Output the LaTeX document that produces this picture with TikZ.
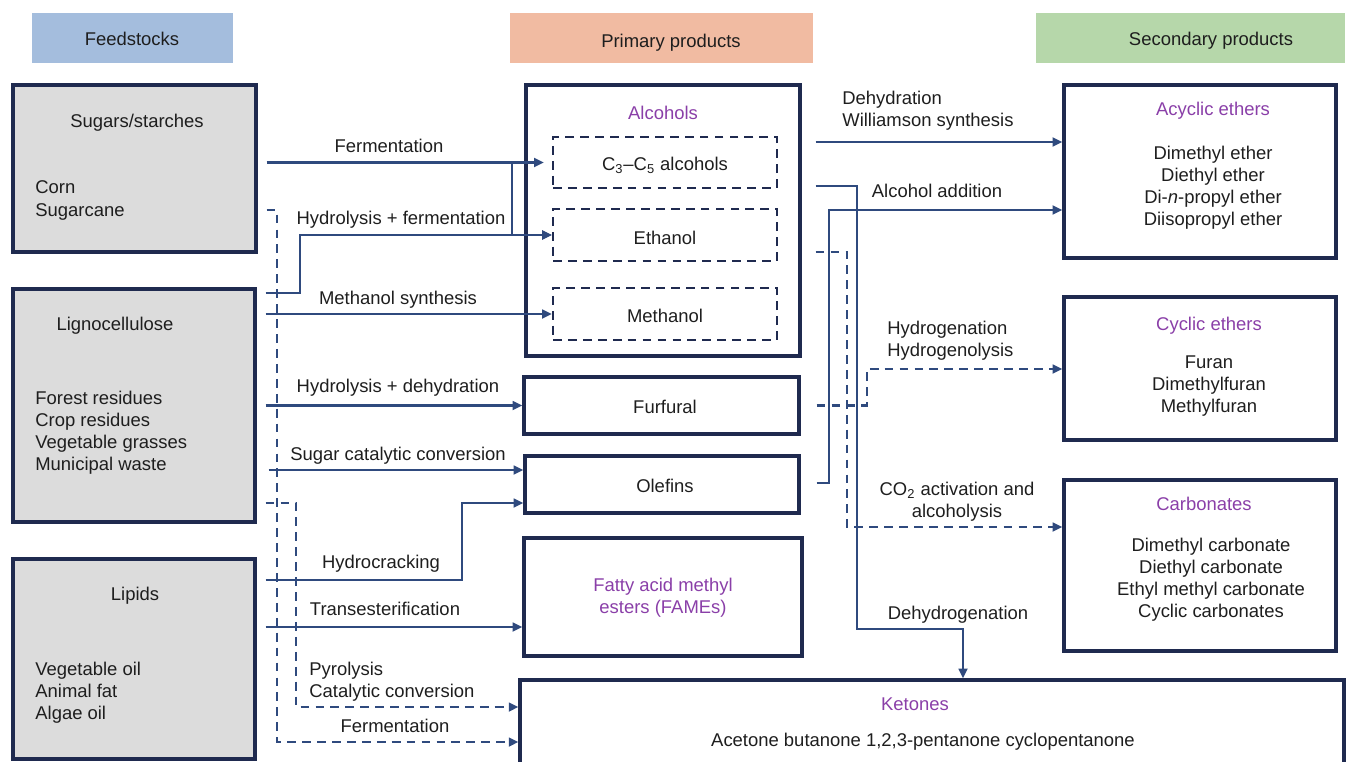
\documentclass[tikz,border=0pt]{standalone}
\usepackage{fontspec}
\setmainfont{Liberation Sans}
\usetikzlibrary{arrows.meta}

\begin{document}
\begin{tikzpicture}[x=0.02cm,y=-0.02cm,
  font=\fontsize{10.5}{12.6}\selectfont,
  box/.style={draw=frame,line width=1.9pt,inner sep=0pt},
  feed/.style={box,fill=feedgray},
  sub/.style={draw=frame,line width=1.4pt,dash pattern=on 5pt off 3.5pt,inner sep=0pt},
  head/.style={inner sep=0pt,minimum height=1cm},
  arr/.style={draw=conn,line width=1.3pt,-{Triangle[length=5.5pt,width=5pt]}},
  darr/.style={arr,dash pattern=on 5pt off 3.5pt},
  base/.style={text=ink,inner sep=0pt},
  lbl/.style={base,text height=0.75em,text depth=0.1em,yshift=-0.03cm},
  title/.style={lbl,text=plum},
  lst/.style={base,align=left,yshift=-0.05cm},
  blk/.style={base,align=center,yshift=-0.05cm},
  ]

  \definecolor{frame}{RGB}{31,42,79} % box border
  \definecolor{conn}{RGB}{47,74,126} % connectors
  \definecolor{ink}{RGB}{30,30,30}
  \definecolor{plum}{RGB}{138,63,168} % purple titles
  \definecolor{feedgray}{RGB}{220,220,220}
  \definecolor{hblue}{RGB}{164,189,221}
  \definecolor{hsalmon}{RGB}{241,187,162}
  \definecolor{hgreen}{RGB}{182,215,170}

  \useasboundingbox (0,0) rectangle (1362,761);

  % Column headers
  \node[head,fill=hblue,minimum width=4.02cm] (hfeed) at (132.5,38) {};
  \node[head,fill=hsalmon,minimum width=6.06cm] (hprim) at (661.5,38) {};
  \node[head,fill=hgreen,minimum width=6.18cm] (hsec) at (1190.5,38) {};
  \node[lbl] (hfeedT) at (132,38) {Feedstocks};
  \node[lbl] (hprimT) at (671,40) {Primary products};
  \node[lbl] (hsecT) at (1211,38) {Secondary products};

  % Feedstocks
  \node[feed,minimum width=4.86cm,minimum height=3.34cm] (sugars) at (134.5,168.5) {};
  \node[feed,minimum width=4.84cm,minimum height=4.66cm] (ligno) at (134,405.5) {};
  \node[feed,minimum width=4.84cm,minimum height=4cm] (lipids) at (134,659) {};
  \node[lbl] (sugarsT) at (137,120) {Sugars/starches};
  \node[lst,anchor=west] (sugarsL) at (35,198) {Corn\\Sugarcane};
  \node[lbl] (lignoT) at (115,323) {Lignocellulose};
  \node[lst,anchor=west] (lignoL) at (35,430.5) {Forest residues\\Crop residues\\Vegetable grasses\\Municipal waste};
  \node[lbl] (lipidsT) at (135,593) {Lipids};
  \node[lst,anchor=west] (lipidsL) at (35,690) {Vegetable oil\\Animal fat\\Algae oil};

  % Primary products
  \node[box,minimum width=5.48cm,minimum height=5.42cm] (alcohols) at (663,220.5) {};
  \node[title] (alcoholsT) at (663,112) {Alcohols};
  \node[sub,minimum width=4.48cm,minimum height=1.02cm] (c35) at (665,162.5) {};
  \node[sub,minimum width=4.48cm,minimum height=1.04cm] (ethanol) at (665,235) {};
  \node[sub,minimum width=4.48cm,minimum height=1.04cm] (methanol) at (665,314) {};
  \node[lbl] (c35T) at (665,163) {C\textsubscript{3}–C\textsubscript{5} alcohols};
  \node[lbl] (ethanolT) at (665,237) {Ethanol};
  \node[lbl] (methanolT) at (665,315) {Methanol};
  \node[box,minimum width=5.5cm,minimum height=1.14cm] (furfural) at (661.5,405.5) {};
  \node[lbl] (furfuralT) at (665,406) {Furfural};
  \node[box,minimum width=5.48cm,minimum height=1.14cm] (olefins) at (662,484.5) {};
  \node[lbl] (olefinsT) at (665,485) {Olefins};
  \node[box,minimum width=5.56cm,minimum height=2.36cm] (fames) at (663,597) {};
  \node[blk,text=plum] (famesT) at (663,595) {Fatty acid methyl\\esters (FAMEs)};
  \node[box,minimum width=16.48cm,minimum height=1.9cm] (ketones) at (932,727.5) {};
  \node[title] (ketonesT) at (915,703) {Ketones};
  \node[lbl] (ketonesL) at (923,739) {Acetone butanone 1,2,3-pentanone cyclopentanone};

  % Secondary products
  \node[box,minimum width=5.44cm,minimum height=3.46cm] (acyclic) at (1200,171.5) {};
  \node[title] (acyclicT) at (1213,108) {Acyclic ethers};
  \node[blk] (acyclicL) at (1213,185.5) {Dimethyl ether\\Diethyl ether\\Di-\textit{n}-propyl ether\\Diisopropyl ether};
  \node[box,minimum width=5.44cm,minimum height=2.86cm] (cyclic) at (1200,368.5) {};
  \node[title] (cyclicT) at (1209,323) {Cyclic ethers};
  \node[blk] (cyclicL) at (1209,383.5) {Furan\\Dimethylfuran\\Methylfuran};
  \node[box,minimum width=5.44cm,minimum height=3.42cm] (carbonates) at (1200,565.5) {};
  \node[title] (carbonatesT) at (1204,503) {Carbonates};
  \node[blk] (carbonatesL) at (1211,577.5) {Dimethyl carbonate\\Diethyl carbonate\\Ethyl methyl carbonate\\Cyclic carbonates};

  % Feedstocks to primary products
  \draw[arr,shorten >=0.16cm] (sugars.east |- c35.west) ++(9,0) -- (c35.west);
  \draw[arr] (512,162) |- (ethanol.west);
  \draw[arr] (ligno.east |- 0,293) ++(9,0) -- (300,293) |- (ethanol.west);
  \draw[arr] (ligno.east |- methanol.west) ++(9,0) -- (methanol.west);
  \draw[arr] (ligno.east |- furfural.west) ++(9,0) -- (furfural.west);
  \draw[arr] (ligno.east |- 0,470) ++(12,0) -- (olefins.west |- 0,470);
  \draw[arr] (lipids.east |- 0,580) ++(9,0) -- (462,580) |- (olefins.west |- 0,503);
  \draw[arr] (lipids.east |- 0,627) ++(9,0) -- (fames.west |- 0,627);
  \draw[darr] (ligno.east |- 0,503) ++(9,0) -- (296,503) |- (ketones.west |- 0,707);
  \draw[darr] (sugars.east |- 0,210) ++(9,0) -- (277,210) |- (ketones.west |- 0,742);

  \node[lbl] (l1) at (389,145) {Fermentation};
  \node[lbl] (l2) at (401,217) {Hydrolysis + fermentation};
  \node[lbl] (l3) at (398,297) {Methanol synthesis};
  \node[lbl] (l4) at (398,385) {Hydrolysis + dehydration};
  \node[lbl] (l5) at (398,453) {Sugar catalytic conversion};
  \node[lbl] (l6) at (381,561) {Hydrocracking};
  \node[lbl] (l7) at (385,608) {Transesterification};
  \node[lst,anchor=west] (l8) at (309,679) {Pyrolysis\\Catalytic conversion};
  \node[lbl] (l9) at (395,725) {Fermentation};

  % Primary to secondary products
  \draw[arr] (alcohols.east |- 0,142) ++(14,0) -- (acyclic.west |- 0,142);
  \draw[arr] (olefins.east |- 0,483) ++(16,0) -- (829,483) |- (acyclic.west |- 0,210);
  \draw[arr] (alcohols.east |- 0,186) ++(14,0) -- (857,186) |- (963,629) -- (ketones.north -| 963,0);
  \draw[darr] (alcohols.east |- 0,252) ++(14,0) -- (847,252) |- (carbonates.west |- 0,527);
  \draw[darr] (furfural.east) ++(16,0) -- (867,405.5) |- (cyclic.west |- 0,369);

  \node[lst,anchor=west] (r1) at (842,108) {Dehydration\\Williamson synthesis};
  \node[lbl] (r2) at (937,190) {Alcohol addition};
  \node[lst,anchor=west] (r3) at (887,338) {Hydrogenation\\Hydrogenolysis};
  \node[blk] (r4) at (957,499) {CO\textsubscript{2} activation and\\alcoholysis};
  \node[lbl] (r5) at (958,612) {Dehydrogenation};

\end{tikzpicture}
\end{document}
